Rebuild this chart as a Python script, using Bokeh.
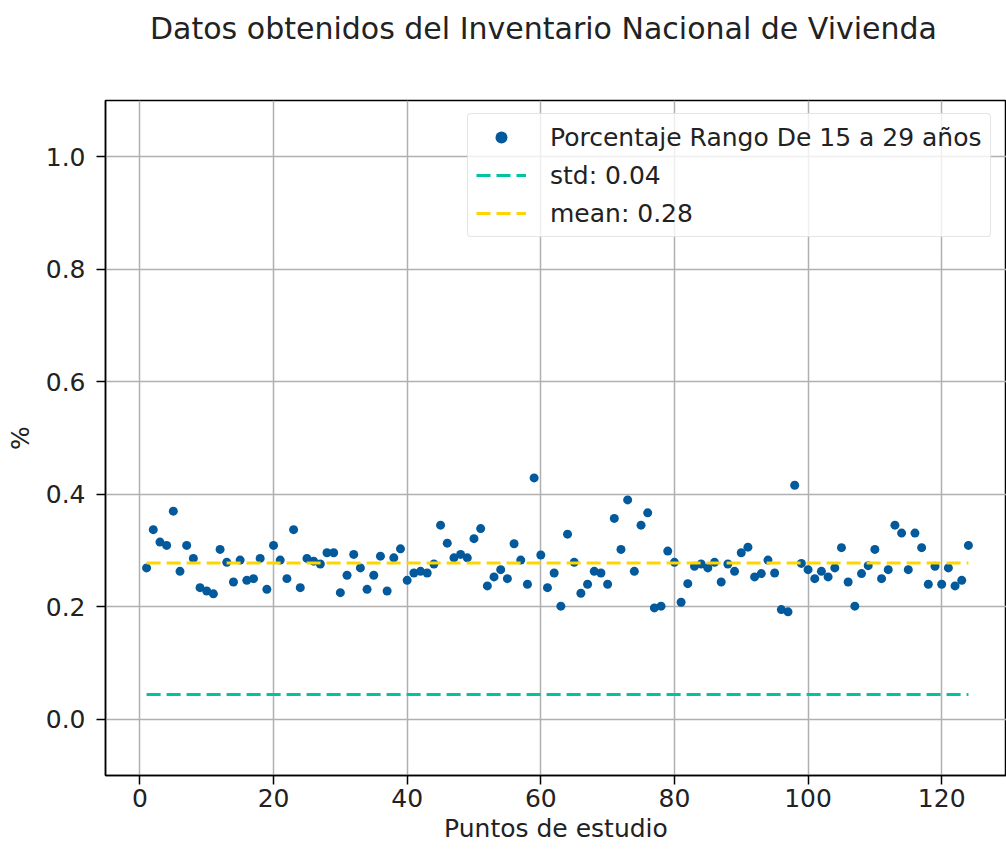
from bokeh.plotting import figure
from bokeh.layouts import column
from bokeh.models import (Range1d, SingleIntervalTicker, FixedTicker, PrintfTickFormatter,
                          Legend, LegendItem)
from bokeh.core.properties import value
from bokeh.embed import file_html
from bokeh.resources import INLINE

# ---- data ----
puntos = list(range(1, 125))
porcentaje = [
    0.269, 0.337, 0.315, 0.309, 0.370, 0.263, 0.309, 0.286, 0.234, 0.228,
    0.223, 0.302, 0.279, 0.244, 0.283, 0.247, 0.250, 0.286, 0.231, 0.309,
    0.283, 0.250, 0.337, 0.234, 0.286, 0.281, 0.276, 0.296, 0.296, 0.225,
    0.256, 0.293, 0.269, 0.231, 0.256, 0.290, 0.228, 0.287, 0.303, 0.247,
    0.260, 0.263, 0.260, 0.276, 0.345, 0.313, 0.287, 0.293, 0.287, 0.321,
    0.339, 0.237, 0.253, 0.266, 0.250, 0.312, 0.283, 0.240, 0.429, 0.292,
    0.234, 0.260, 0.201, 0.329, 0.279, 0.224, 0.240, 0.263, 0.260, 0.240,
    0.357, 0.302, 0.390, 0.263, 0.345, 0.367, 0.198, 0.201, 0.299, 0.279,
    0.208, 0.241, 0.272, 0.276, 0.269, 0.279, 0.244, 0.276, 0.263, 0.296,
    0.306, 0.253, 0.259, 0.283, 0.260, 0.195, 0.191, 0.416, 0.277, 0.266,
    0.250, 0.263, 0.253, 0.269, 0.305, 0.244, 0.201, 0.259, 0.273, 0.302,
    0.250, 0.266, 0.345, 0.331, 0.266, 0.331, 0.305, 0.240, 0.272, 0.240,
    0.269, 0.237, 0.247, 0.309,
]
std_val = 0.044
mean_val = 0.278
serie_label = "Porcentaje Rango De 15 a 29 años"
std_label = "std: 0.04"
mean_label = "mean: 0.28"
title_text = "Datos obtenidos del Inventario Nacional de Vivienda"
x_label = "Puntos de estudio"
y_label = "%"
y_ticks = [0.0, 0.2, 0.4, 0.6, 0.8, 1.0]

FONT = "DejaVu Sans"
BLUE = "#02599c"
TEAL = "#00c4a0"
GOLD = "#ffd500"
FS = "25px"

# ---- title strip (separate small figure above the chart) ----
# its frame is aligned with the chart frame by the column layout (105 px .. 1006 px)
TW, TH = 1006, 98
t = figure(width=TW, height=TH, output_backend="svg", toolbar_location=None,
           x_range=Range1d(0, 1), y_range=Range1d(0, TH),
           x_axis_type=None, y_axis_type=None, min_border=0)
t.title = None
t.outline_line_color = None
t.grid.visible = False
t.text(x=[(543 - 105) / (TW - 105)], y=[TH - 28], text=[title_text], text_font=value(FONT),
       text_font_size="30px", text_color="#222222", text_align="center",
       text_baseline="middle")

# ---- main chart ----
p = figure(width=1006, height=756, output_backend="svg", toolbar_location=None,
           x_range=Range1d(-5.15, 129.7), y_range=Range1d(-0.1, 1.1),
           min_border_left=105, min_border_right=0, min_border_top=2, min_border_bottom=79)
p.title = None

p.outline_line_color = "black"
p.outline_line_width = 1.5

for ax in (p.xaxis[0], p.yaxis[0]):
    ax.axis_line_color = "black"
    ax.axis_line_width = 1.5
    ax.major_tick_line_color = "black"
    ax.major_tick_line_width = 1.5
    ax.major_tick_out = 9
    ax.major_tick_in = 0
    ax.minor_tick_line_color = None
    ax.major_label_text_font = FONT
    ax.major_label_text_font_size = FS
    ax.major_label_text_color = "#222222"
    ax.axis_label_text_font = FONT
    ax.axis_label_text_font_size = FS
    ax.axis_label_text_font_style = "normal"
    ax.axis_label_text_color = "#222222"

p.xaxis.ticker = SingleIntervalTicker(interval=20)
p.xaxis.axis_label = x_label
p.xaxis.major_label_standoff = 4
p.xaxis.axis_label_standoff = 4
p.yaxis.ticker = FixedTicker(ticks=y_ticks)
p.yaxis.formatter = PrintfTickFormatter(format="%.1f")
p.yaxis.axis_label = y_label
p.yaxis.major_label_standoff = 11
p.yaxis.axis_label_standoff = 8

p.xgrid.ticker = SingleIntervalTicker(interval=20)
p.ygrid.ticker = FixedTicker(ticks=y_ticks)
p.grid.grid_line_color = "#b0b0b0"
p.grid.grid_line_width = 1.5

r_pts = p.scatter(puntos, porcentaje, size=9, color=BLUE, line_color=None)
r_std = p.line([puntos[0], puntos[-1]], [std_val, std_val], color=TEAL, line_width=3,
               line_dash="14 6")
r_mean = p.line([puntos[0], puntos[-1]], [mean_val, mean_val], color=GOLD, line_width=3,
                line_dash="14 6")

legend = Legend(items=[LegendItem(label=serie_label, renderers=[r_pts]),
                       LegendItem(label=std_label, renderers=[r_std]),
                       LegendItem(label=mean_label, renderers=[r_mean])],
                location=(362, 538), margin=0, padding=8, spacing=8,
                glyph_width=50, glyph_height=30, label_standoff=24,
                label_text_font=FONT, label_text_font_size=FS,
                label_text_color="#222222",
                border_line_color="#cccccc", border_line_width=1.5,
                background_fill_color="white", background_fill_alpha=0.8,
                border_radius=4)
p.add_layout(legend, "center")

layout = column(t, p, spacing=0)
open("out.html", "w").write(file_html(layout, INLINE))
